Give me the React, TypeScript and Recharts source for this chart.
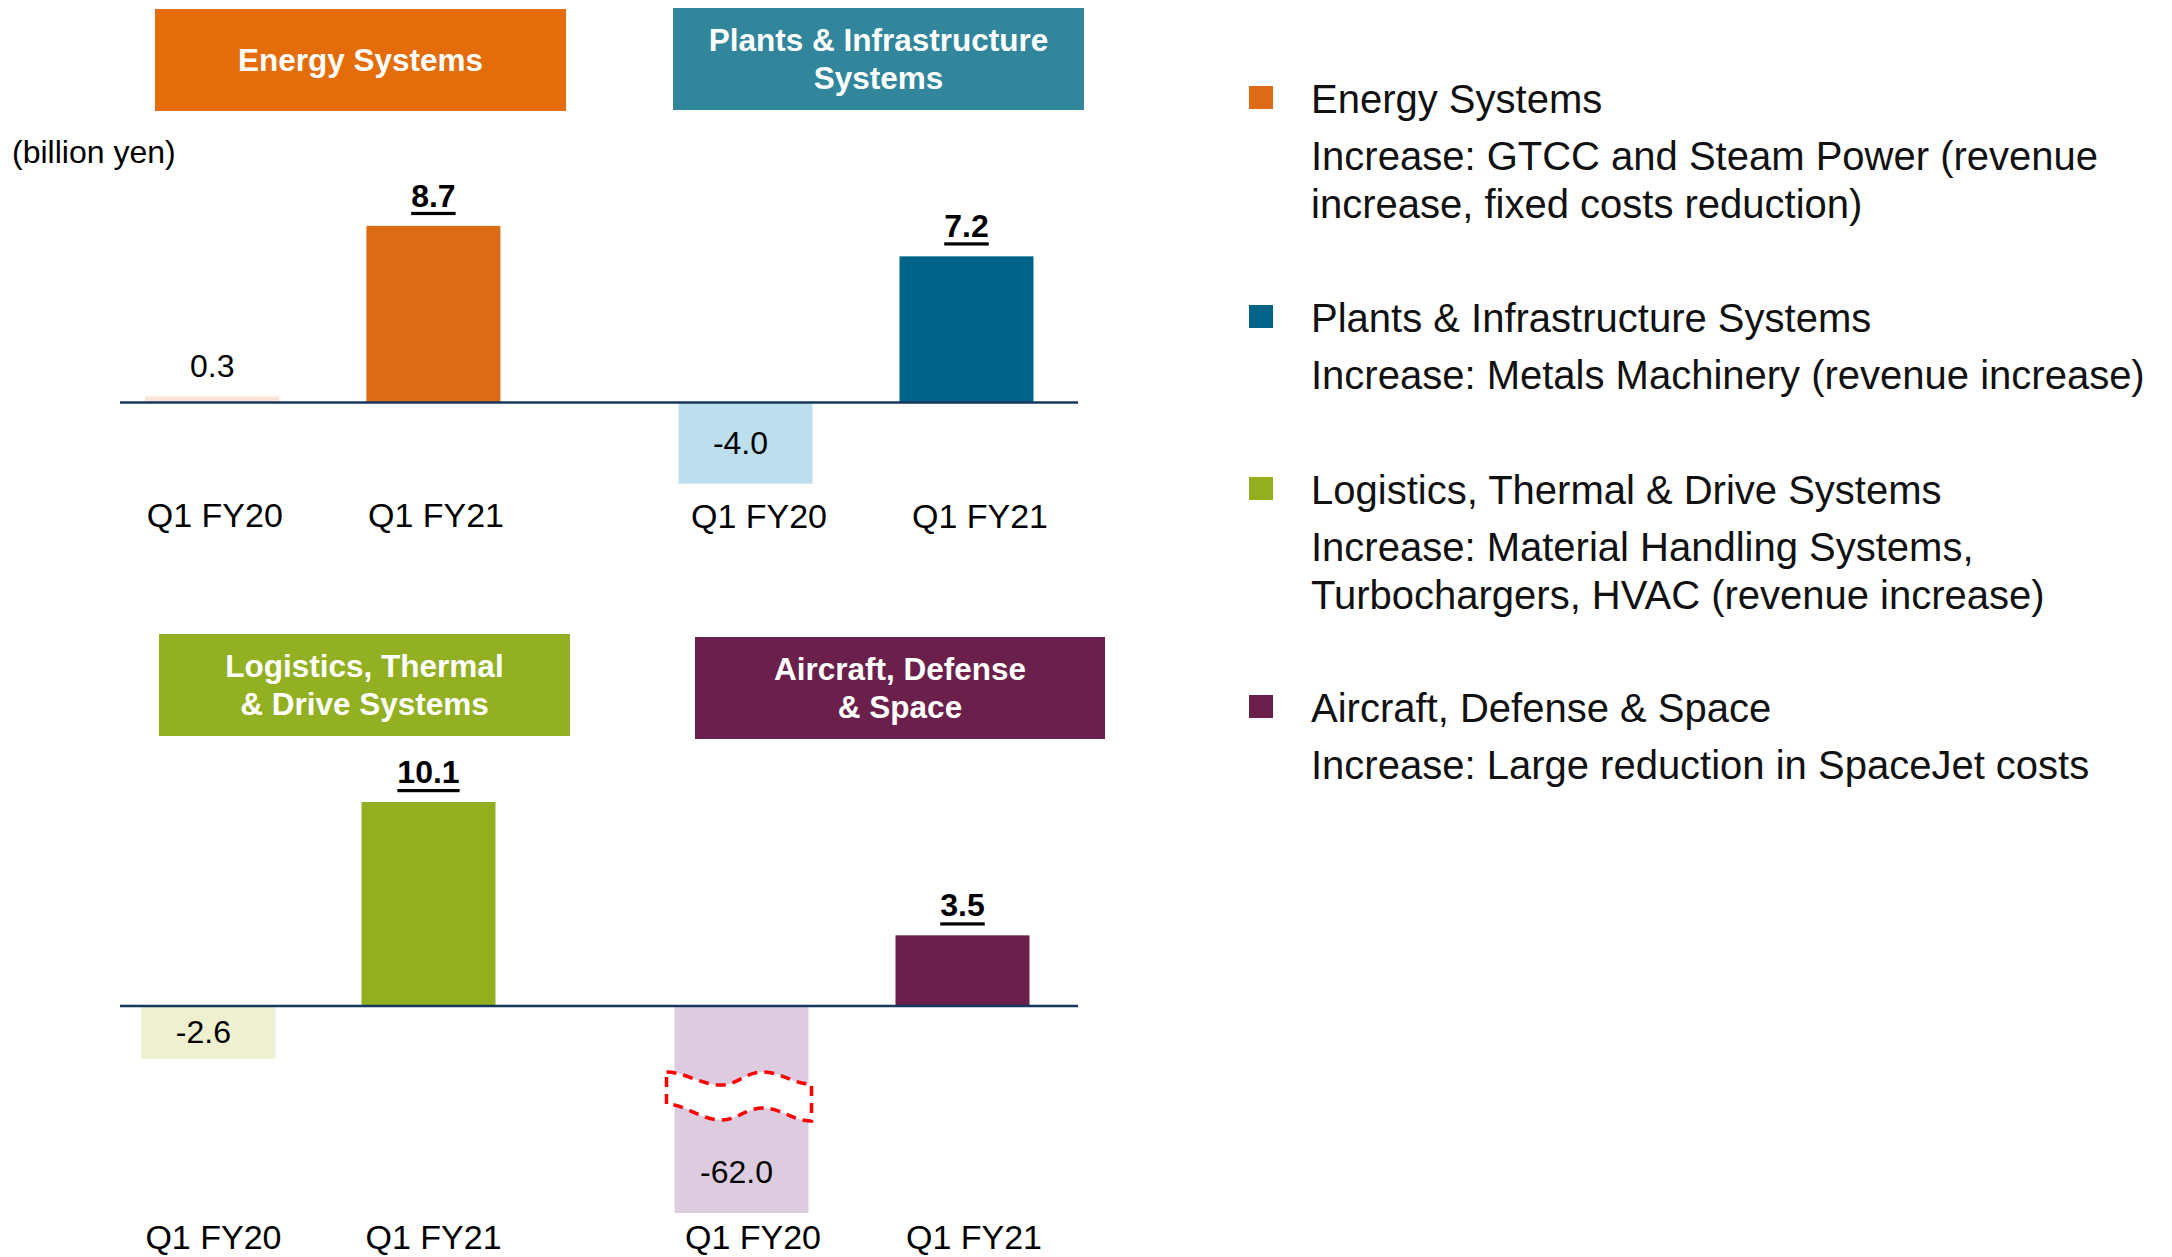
import { BarChart, Bar, XAxis, YAxis, Cell, ReferenceLine } from 'recharts';

const PERIODS = ['Q1 FY20', 'Q1 FY21'];
const ENERGY = [0.3, 8.7];
const PLANTS = [-4.0, 7.2];
const LOGISTICS = [-2.6, 10.1];
const AIRCRAFT = [-62.0, 3.5];

const HEADER_LINES = [
  ['Energy Systems'],
  ['Plants & Infrastructure', 'Systems'],
  ['Logistics, Thermal', '& Drive Systems'],
  ['Aircraft, Defense', '& Space'],
];
const LEGEND_NAMES = [
  'Energy Systems',
  'Plants & Infrastructure Systems',
  'Logistics, Thermal & Drive Systems',
  'Aircraft, Defense & Space',
];
const LEGEND_NOTES = [
  ['Increase: GTCC and Steam Power (revenue', 'increase, fixed costs reduction)'],
  ['Increase: Metals Machinery (revenue increase)'],
  ['Increase: Material Handling Systems,', 'Turbochargers, HVAC (revenue increase)'],
  ['Increase: Large reduction in SpaceJet costs'],
];

const DARK = ['#DD6B15', '#006488', '#93AF1F', '#6B1F4B'];
const LIGHT = ['#FCE4D6', '#BDDEEC', '#EEF0CF', '#DDCCDF'];
const HEADER_BG = ['#E46C0A', '#31869B', '#93B022', '#6B1F4B'];

const FONT = '"Liberation Sans", Arial, sans-serif';

// layout of the four small charts (page pixels)
const PANELS = [
  { values: ENERGY, left: 120, top: 160, width: 482, height: 393.85, marginTop: 15.14, axisH: 60, domain: [-4.5, 11.2], pad: { left: -18.8, right: 58.4 }, tickX: 3, tickY: 21, header: { left: 155, top: 9, w: 411, h: 102 } },
  { values: PLANTS, left: 602, top: 160, width: 476, height: 393.85, marginTop: 15.14, axisH: 60, domain: [-4.5, 11.2], pad: { left: 32.5, right: 1.5 }, tickX: 14, tickY: 22, header: { left: 673, top: 8, w: 411, h: 102 } },
  { values: LOGISTICS, left: 120, top: 745, width: 482, height: 512, marginTop: 6.5, axisH: 43.9, domain: [-10.25, 12.6], pad: { left: -21.6, right: 63.4 }, tickX: 5, tickY: 24, header: { left: 159, top: 634, w: 411, h: 102 } },
  { values: AIRCRAFT, left: 602, top: 745, width: 476, height: 512, marginTop: 6.5, axisH: 43.9, domain: [-10.25, 12.6], pad: { left: 28.5, right: 5.5 }, tickX: 12, tickY: 24, header: { left: 695, top: 637, w: 410, h: 102 } },
];

const LEGEND_Y = [99, 318, 490, 708];

function PeriodTick(props: any) {
  const { x, y, payload, shiftX, shiftY } = props;
  return (
    <text
      x={x + shiftX}
      y={y + shiftY}
      textAnchor="middle"
      dominantBaseline="central"
      fontSize={34}
      fontFamily={FONT}
      fill="#000"
    >
      {payload.value}
    </text>
  );
}

// bar + value label (+ axis break when the bar runs past the plot area)
function SegmentBar(props: any) {
  const { x, y, width, height, fill, index, payload, background } = props;
  const v: number = payload.value;
  const top = Math.min(y, y + height);
  let bottom = Math.max(y, y + height);
  const plotBottom = background ? background.y + background.height : bottom;
  const broken = bottom > plotBottom + 1;
  if (broken) bottom = plotBottom;
  const cx = x + width / 2;
  const label = v.toFixed(1);
  const current = index === 1;

  let labelEl;
  if (v >= 0) {
    labelEl = (
      <text
        x={cx}
        y={top - 30}
        textAnchor="middle"
        dominantBaseline="central"
        fontSize={32}
        fontFamily={FONT}
        fontWeight={current ? 700 : 400}
        textDecoration={current ? 'underline' : undefined}
        fill="#000"
      >
        {label}
      </text>
    );
  } else {
    const ly = Math.max((top + bottom) / 2, bottom - 41);
    labelEl = (
      <text x={cx - 5} y={ly} textAnchor="middle" dominantBaseline="central" fontSize={32} fontFamily={FONT} fill="#000">
        {label}
      </text>
    );
  }

  const r = x + width + 3;
  const breakPath =
    `M ${x - 8} ${top + 66} C ${x + 10} ${top + 66} ${x + 27} ${top + 79} ${x + 46} ${top + 79} ` +
    `C ${x + 64} ${top + 79} ${x + 70} ${top + 66} ${x + 89} ${top + 66} ` +
    `C ${x + 107} ${top + 66} ${x + 118} ${top + 78} ${r} ${top + 78} ` +
    `L ${r} ${top + 115} ` +
    `C ${x + 118} ${top + 115} ${x + 107} ${top + 102} ${x + 89} ${top + 102} ` +
    `C ${x + 70} ${top + 102} ${x + 64} ${top + 114} ${x + 46} ${top + 114} ` +
    `C ${x + 27} ${top + 114} ${x + 10} ${top + 98} ${x - 8} ${top + 98} Z`;

  return (
    <g>
      <rect x={x} y={top} width={width} height={bottom - top} fill={fill} />
      {broken && (
        <path d={breakPath} fill="#fff" stroke="#FF0000" strokeWidth={3.5} strokeDasharray="10 7" />
      )}
      {labelEl}
    </g>
  );
}

export default function App() {
  return (
    <div
      style={{
        position: 'absolute',
        left: 0,
        top: 0,
        width: 2172,
        height: 1257,
        background: '#fff',
        overflow: 'hidden',
        fontFamily: FONT,
      }}
    >
      {PANELS.map((p, k) => {
        const data = PERIODS.map((period, i) => ({ period, value: p.values[i] }));
        return (
          <div key={k}>
            <div
              style={{
                position: 'absolute',
                left: p.header.left,
                top: p.header.top,
                width: p.header.w,
                height: p.header.h,
                background: HEADER_BG[k],
                color: '#fff',
                fontWeight: 700,
                fontSize: 31.5,
                lineHeight: '38px',
                display: 'flex',
                flexDirection: 'column',
                alignItems: 'center',
                justifyContent: 'center',
                textAlign: 'center',
              }}
            >
              {HEADER_LINES[k].map((t) => (
                <div key={t}>{t}</div>
              ))}
            </div>
            <div style={{ position: 'absolute', left: p.left, top: p.top }}>
              <BarChart
                width={p.width}
                height={p.height}
                data={data}
                margin={{ top: p.marginTop, right: 0, bottom: 0, left: 0 }}
                barSize={134}
              >
                <XAxis
                  dataKey="period"
                  height={p.axisH}
                  axisLine={false}
                  tickLine={false}
                  tickSize={0}
                  tickMargin={0}
                  padding={p.pad}
                  interval={0}
                  tick={(tp: any) => <PeriodTick {...tp} shiftX={p.tickX} shiftY={p.tickY} />}
                />
                <YAxis type="number" hide domain={p.domain} allowDataOverflow />
                <Bar dataKey="value" isAnimationActive={false} shape={(bp: any) => <SegmentBar {...bp} />}>
                  {data.map((d, i) => (
                    <Cell key={d.period} fill={i === 0 ? LIGHT[k] : DARK[k]} />
                  ))}
                </Bar>
                <ReferenceLine y={0} stroke="#17375E" strokeWidth={2.5} />
              </BarChart>
            </div>
          </div>
        );
      })}

      <div style={{ position: 'absolute', left: 12, top: 134, fontSize: 32, lineHeight: '36px', color: '#000' }}>
        (billion yen)
      </div>

      {LEGEND_NAMES.map((name, k) => (
        <div key={name}>
          <div
            style={{
              position: 'absolute',
              left: 1249,
              top: LEGEND_Y[k] - 13,
              width: 24,
              height: 23,
              background: DARK[k],
            }}
          />
          <div
            style={{
              position: 'absolute',
              left: 1311,
              top: LEGEND_Y[k] - 24,
              fontSize: 40,
              lineHeight: '48px',
              color: '#111',
              whiteSpace: 'nowrap',
            }}
          >
            {name}
          </div>
          {LEGEND_NOTES[k].map((line, j) => (
            <div
              key={line}
              style={{
                position: 'absolute',
                left: 1311,
                top: LEGEND_Y[k] + 57 + j * 47.5 - 24,
                fontSize: 40,
                lineHeight: '48px',
                color: '#111',
                whiteSpace: 'nowrap',
              }}
            >
              {line}
            </div>
          ))}
        </div>
      ))}
    </div>
  );
}
